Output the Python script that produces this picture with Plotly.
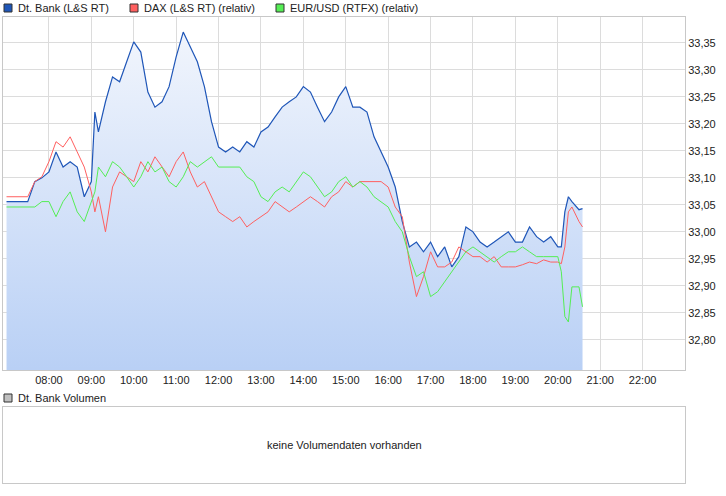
import plotly.graph_objects as go

times = ["07:00","07:30","07:40","07:50"]
for h in range(8, 20):
    for m in range(0, 60, 10):
        times.append(f"{h:02d}:{m:02d}")
        if h == 9 and m == 0:
            times.append("09:05")
times += ["20:00","20:05","20:10","20:15","20:20","20:30","20:35"]
x = ["2024-01-01 " + t for t in times]

bank = [33.056,33.056,33.093,33.100,33.111,33.148,33.120,33.130,33.120,33.065,
        33.093,33.222,33.185,33.241,33.287,33.278,33.315,
        33.352,33.333,33.259,33.231,33.241,33.269,
        33.324,33.370,33.343,33.315,33.269,33.204,
        33.157,33.148,33.157,33.148,33.167,33.157,
        33.185,33.194,33.213,33.231,33.241,33.250,
        33.269,33.259,33.231,33.204,33.222,33.250,
        33.269,33.231,33.231,33.222,33.176,33.148,
        33.120,33.083,33.019,32.972,32.981,32.963,
        32.981,32.954,32.972,32.935,32.954,33.009,
        33.000,32.981,32.972,32.981,32.991,33.000,
        32.981,32.981,33.009,32.991,32.981,32.991,
        32.972,32.972,33.037,33.065,33.056,33.041,33.043]
dax = [33.065,33.065,33.093,33.102,33.130,33.167,33.157,33.176,33.148,33.120,
       33.074,33.037,33.065,33.000,33.083,33.111,33.102,
       33.093,33.130,33.111,33.139,33.120,33.102,
       33.130,33.148,33.111,33.083,33.093,33.065,
       33.037,33.028,33.019,33.028,33.009,33.019,
       33.028,33.037,33.056,33.046,33.037,33.046,
       33.056,33.065,33.056,33.046,33.065,33.074,
       33.093,33.083,33.093,33.093,33.093,33.093,
       33.083,33.046,33.028,32.944,32.880,32.917,
       32.963,32.935,32.935,32.944,32.972,32.963,
       32.954,32.954,32.944,32.954,32.935,32.935,
       32.935,32.939,32.944,32.941,32.948,32.944,
       32.944,32.941,32.972,33.037,33.046,33.019,33.009]
eurusd = [33.046,33.046,33.046,33.056,33.056,33.028,33.056,33.074,33.037,33.019,
          33.056,33.074,33.120,33.102,33.130,33.120,33.102,
          33.083,33.102,33.130,33.111,33.120,33.093,
          33.083,33.102,33.130,33.120,33.130,33.139,
          33.120,33.120,33.120,33.120,33.102,33.093,
          33.065,33.056,33.074,33.083,33.074,33.093,
          33.111,33.102,33.083,33.065,33.074,33.093,
          33.102,33.083,33.093,33.083,33.065,33.056,
          33.046,33.019,33.000,32.954,32.917,32.926,
          32.880,32.889,32.907,32.926,32.944,32.963,
          32.972,32.963,32.954,32.944,32.954,32.963,
          32.963,32.972,32.963,32.954,32.954,32.954,
          32.954,32.926,32.843,32.833,32.898,32.898,32.861]

yticks = [32.80,32.85,32.90,32.95,33.00,33.05,33.10,33.15,33.20,33.25,33.30,33.35]
xticks = ["2024-01-01 %02d:00" % h for h in range(8, 23)]

fig = go.Figure()
fig.add_trace(go.Scatter(x=x, y=bank, mode="lines", line=dict(color="#1f56b8", width=1.2),
                         fill="tozeroy",
                         fillgradient=dict(type="vertical", start=32.744, stop=33.40,
                                           colorscale=[[0, "#b9d0f5"], [1, "#f4f7fd"]])))
fig.add_trace(go.Scatter(x=x, y=dax, mode="lines", line=dict(color="#ff6060", width=1)))
fig.add_trace(go.Scatter(x=x, y=eurusd, mode="lines", line=dict(color="#55ee55", width=1)))

axstyle = dict(showline=True, linecolor="#c8c8c8", mirror=True, gridcolor="#dcdcdc", zeroline=False)
fig.update_layout(
    width=726, height=496, margin=dict(l=3, r=41, t=17, b=13),
    paper_bgcolor="white", plot_bgcolor="white", showlegend=False,
    separators=",.", font=dict(family="Liberation Sans, Arial", size=11, color="#222"),
    xaxis=dict(range=["2024-01-01 06:55", "2024-01-01 23:00"], tickvals=xticks,
               tickformat="%H:%M", anchor="y", ticks="", **axstyle),
    yaxis=dict(domain=[0.2425, 1], range=[32.744, 33.398], side="right", tickvals=yticks,
               tickformat=".2f", ticks="", **axstyle),
    xaxis2=dict(domain=[0, 1], anchor="y2", showticklabels=False, range=[0, 1],
                showgrid=False, showline=True, linecolor="#c8c8c8", mirror=True, zeroline=False),
    yaxis2=dict(domain=[0, 0.163], anchor="x2", showticklabels=False, range=[0, 1],
                showgrid=False, showline=True, linecolor="#c8c8c8", mirror=True, zeroline=False),
)
fig.add_annotation(x=0.5, y=0.5, xref="x2", yref="y2", text="keine Volumendaten vorhanden",
                   showarrow=False, font=dict(size=11))

legend = [("Dt. Bank (L&S RT)", "#1f56b8", 4), ("DAX (L&S RT) (relativ)", "#ff6060", 130),
          ("EUR/USD (RTFX) (relativ)", "#55ee55", 276)]
for txt, col, px in legend:
    fig.add_shape(type="rect", xref="paper", yref="paper",
                  x0=(px - 3) / 682, x1=(px + 5) / 682, y0=(483 - 12) / 466, y1=(483 - 4) / 466,
                  fillcolor=col, line=dict(color="#333", width=1))
    fig.add_annotation(x=(px + 9) / 682, y=(483 - 8) / 466, xref="paper", yref="paper", text=txt,
                       showarrow=False, xanchor="left", yanchor="middle", font=dict(size=11))
fig.add_shape(type="rect", xref="paper", yref="paper",
              x0=1 / 682, x1=9 / 682, y0=(483 - 402) / 466, y1=(483 - 394) / 466,
              fillcolor="#c0c0c0", line=dict(color="#333", width=1))
fig.add_annotation(x=13 / 682, y=(483 - 398) / 466, xref="paper", yref="paper", text="Dt. Bank Volumen",
                   showarrow=False, xanchor="left", yanchor="middle", font=dict(size=11))

fig.write_html("out.html", config={"displayModeBar": False},
               post_script="document.body.style.margin='0';")
